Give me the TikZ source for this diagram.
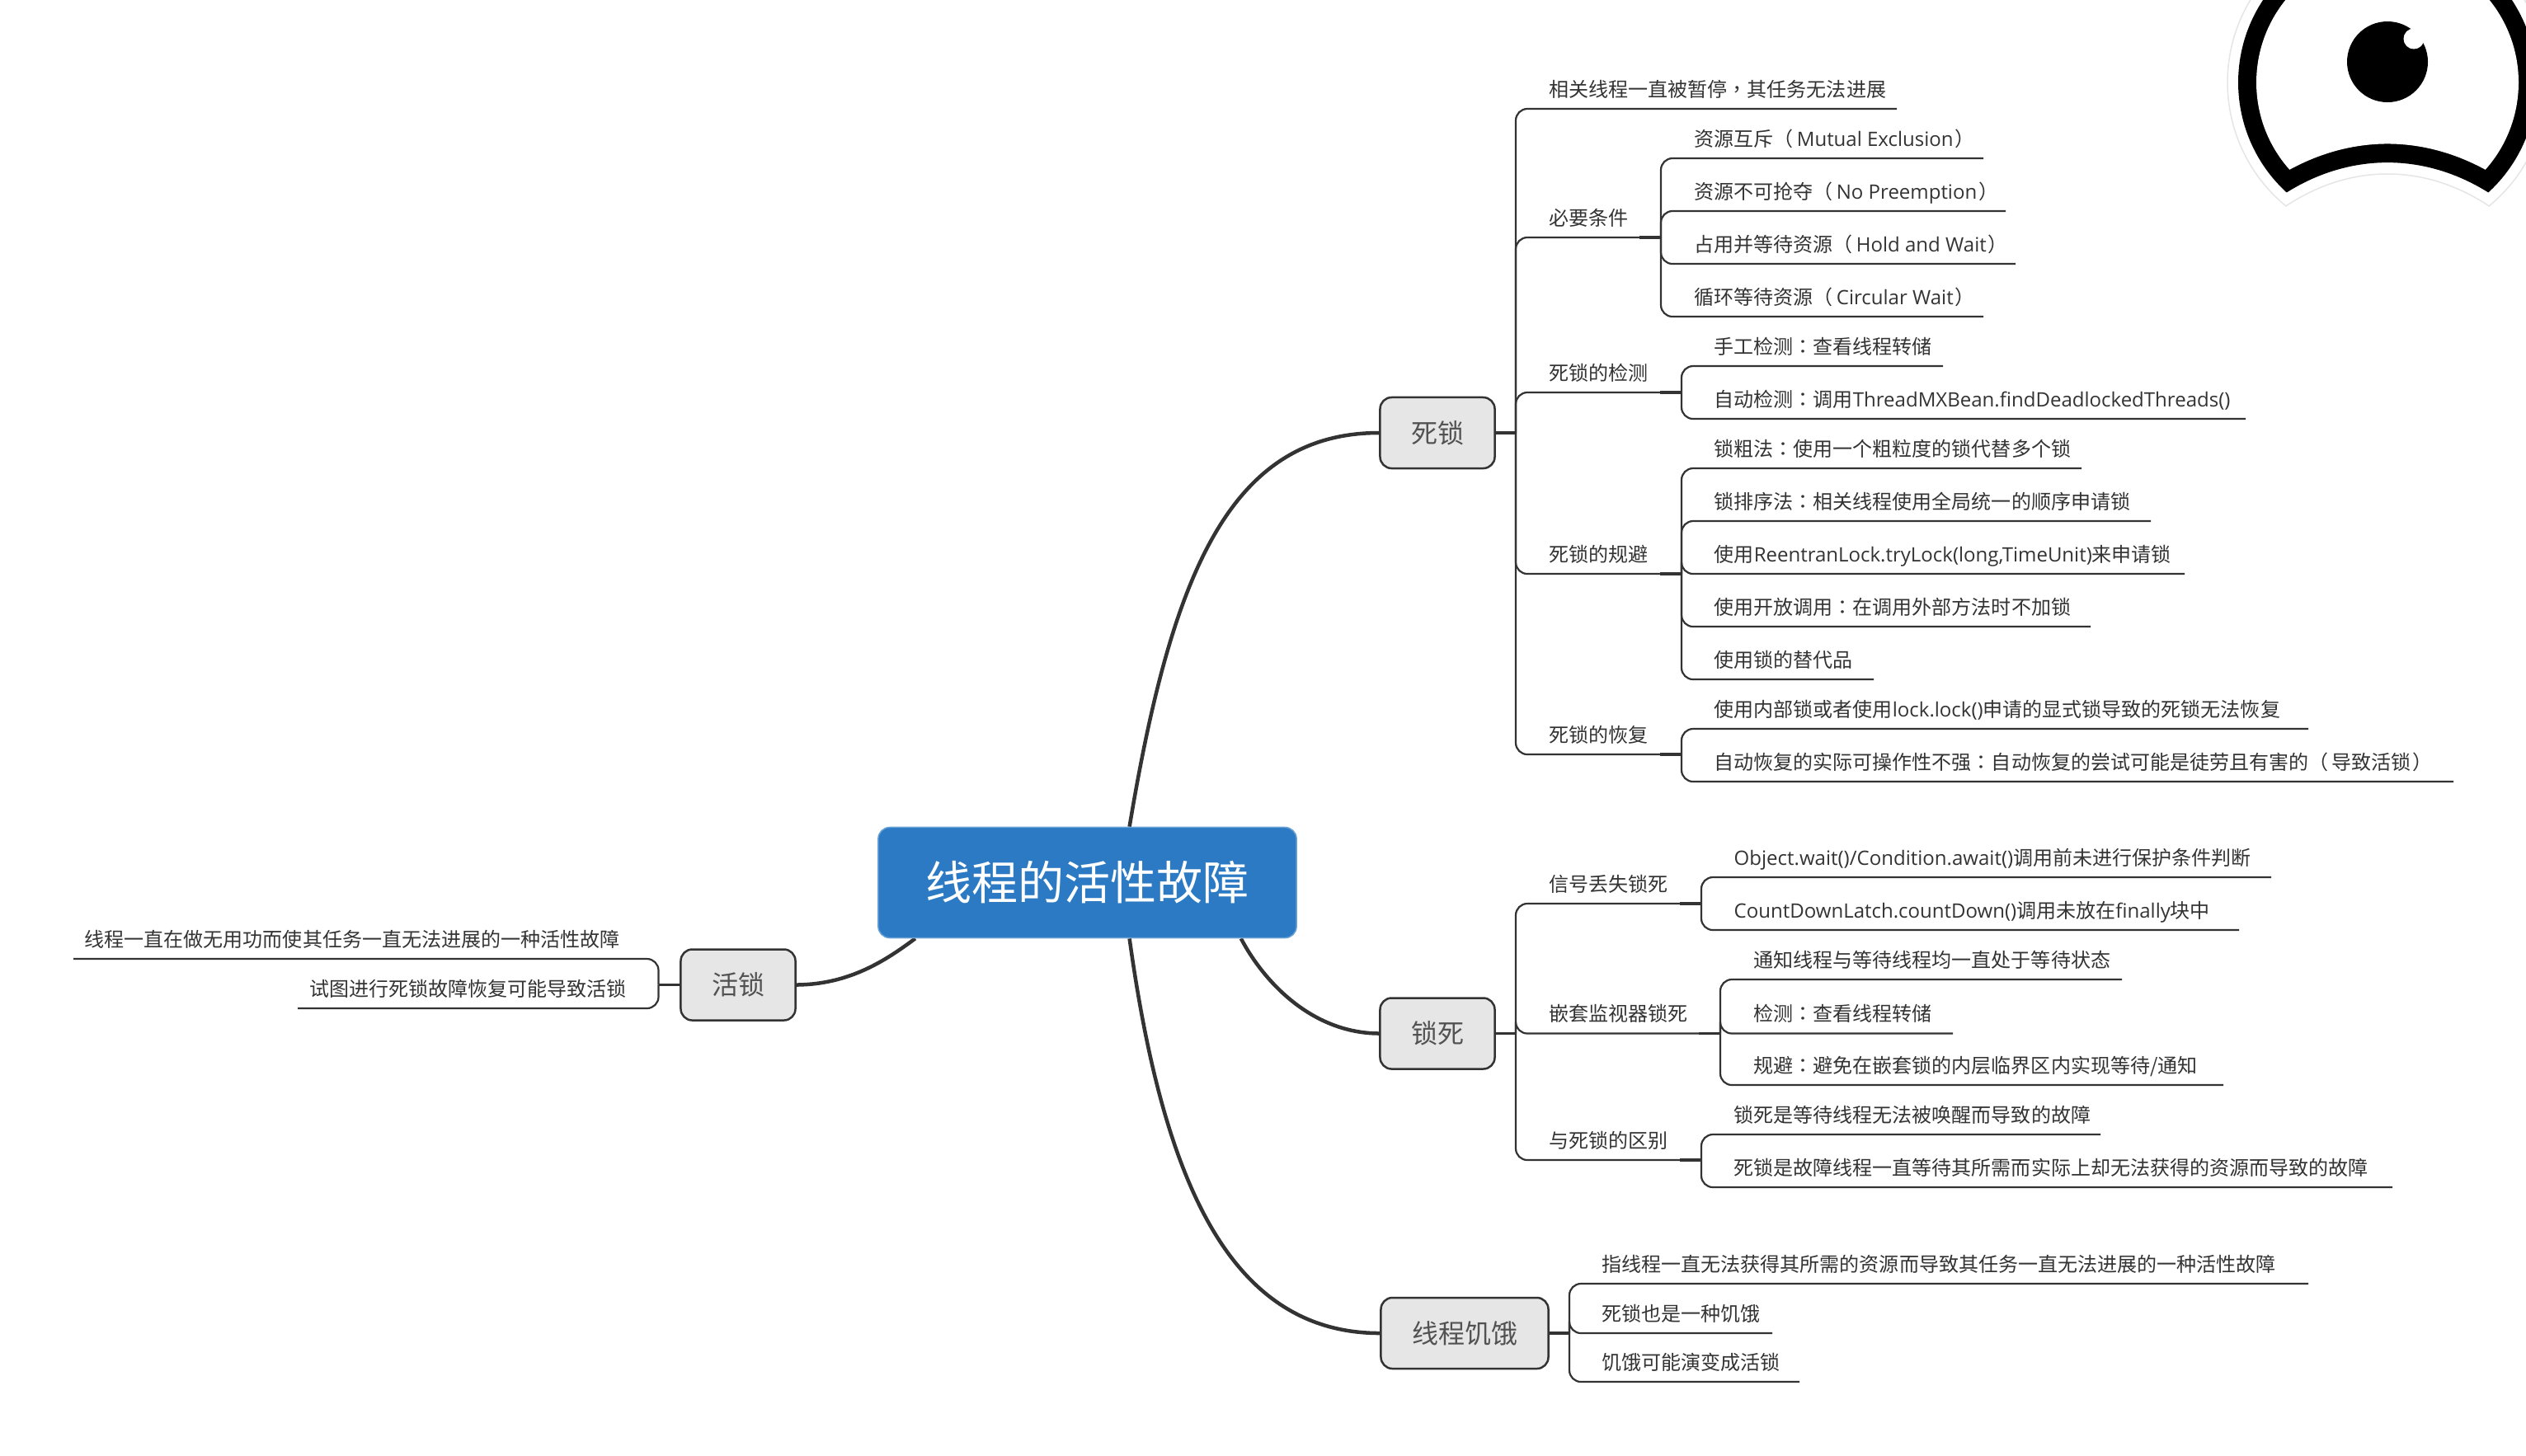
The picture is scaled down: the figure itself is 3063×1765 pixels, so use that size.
\documentclass[tikz,border=0pt]{standalone}
\usepackage{fontspec}
\setmainfont{Noto Sans CJK SC}
\newfontfamily\enfont{Open Sans}
\newfontfamily\markfont{Noto Sans CJK TC}
\newcommand{\en}[1]{{\enfont #1}}
\newcommand{\mk}[1]{{\markfont #1}}
\newcommand{\lp}{（\kern0.04cm}
\newcommand{\rp}{\kern0.02cm）}
\usetikzlibrary{backgrounds}

\definecolor{inkdark}{HTML}{333333}
\definecolor{rootblue}{HTML}{2C7AC3}
\definecolor{topicgray}{HTML}{E6E6E6}

\tikzset{
    root/.style={draw=rootblue!70!white, fill=rootblue, line width=0.015cm, rounded corners=1.4mm, minimum width=5.07cm, minimum height=1.34cm, inner sep=0pt, text=white, font=\fontsize{15.93}{18}\selectfont},
    topic/.style={draw=inkdark, fill=topicgray, line width=0.025cm, rounded corners=1.4mm, minimum height=0.86cm, inner xsep=0.375cm, inner ysep=0pt, text=inkdark!85!white, font=\fontsize{9.1}{11}\selectfont},
    leaf/.style={inner sep=0pt, anchor=base west, text=inkdark, font=\fontsize{6.83}{8}\selectfont},
    leafleft/.style={leaf, anchor=base east},
    curve/.style={draw=inkdark, line width=0.045cm},
    stem/.style={draw=inkdark, line width=0.035cm},
    branch/.style={draw=inkdark, line width=0.022cm, rounded corners=1.4mm}
}

\begin{document}
\begin{tikzpicture}[x=0.01cm, y=-0.01cm]
    \useasboundingbox (0,0) rectangle (3063,1765);

    % Main topics
    \node[root] (rootnode) at (1318.5,1070.5) {线程的活性故障};
    \node[topic] (dead) at (1743,525) {死锁};
    \node[topic] (lockup) at (1743,1253.5) {锁死};
    \node[topic] (starve) at (1776,1617) {线程饥饿};
    \node[topic] (live) at (895,1194.5) {活锁};

    % Curves behind the main topic
    \begin{scope}[on background layer]
        \draw[curve] (rootnode.53) .. controls (1420,700) and (1490,525) .. (dead.west);
        \draw[curve] (rootnode.-20.3) .. controls (1532,1190) and (1590,1253) .. (lockup.west);
        \draw[curve] (rootnode.-53) .. controls (1410,1430) and (1490,1617) .. (starve.west);
        \draw[curve] (rootnode.198.5) .. controls (1074,1165) and (1030,1194) .. (live.east);
    \end{scope}

    % Hubs of the main topics
    \foreach \hub/\topic/\hx/\hy in {deadhub/dead/1838/525, lockuphub/lockup/1838/1253.5, starvehub/starve/1903/1617, livehub/live/798.5/1194.5} {
        \coordinate (\hub) at (\hx,\hy);
        \draw[stem] (\topic) -- (\hub);
    }

    % Second level, with a hub of their own
    \foreach \hub/\parent/\hx/\uy/\label in {
        needhub/deadhub/2014/288/必要条件,
        detecthub/deadhub/2039/476/死锁的检测,
        avoidhub/deadhub/2039/696/死锁的规避,
        recoverhub/deadhub/2039/915/死锁的恢复,
        signalhub/lockuphub/2063/1096/信号丢失锁死,
        nesthub/lockuphub/2086/1253.5/嵌套监视器锁死,
        diffhub/lockuphub/2063/1407/与死锁的区别} {
        \coordinate (\hub) at (\hx,\uy);
        \node[leaf] (\hub text) at (1878,\uy-15) {\label};
        \draw[branch] (\parent) |- (\hub);
        \draw[stem] (\hub) -- ++(-26,0);
    }

    % Leaves
    \foreach \leafname/\hub/\lx/\uy/\ex/\label in {
        first/deadhub/1878/132/2300/{相关线程一直被暂停\mk{，}其任务无法进展},
        needa/needhub/2054/192/2405/{资源互斥\lp\en{Mutual Exclusion}\rp},
        needb/needhub/2054/256/2432/{资源不可抢夺\lp\en{No Preemption}\rp},
        needc/needhub/2054/320/2444/{占用并等待资源\lp\en{Hold and Wait}\rp},
        needd/needhub/2054/384/2405/{循环等待资源\lp\en{Circular Wait}\rp},
        detecta/detecthub/2078/444/2356/{手工检测\mk{：}查看线程转储},
        detectb/detecthub/2078/508/2723/{自动检测\mk{：}调用\en{ThreadMXBean.findDeadlockedThreads()}},
        avoida/avoidhub/2078/568/2524/{锁粗法\mk{：}使用一个粗粒度的锁代替多个锁},
        avoidb/avoidhub/2078/632/2608/{锁排序法\mk{：}相关线程使用全局统一的顺序申请锁},
        avoidc/avoidhub/2078/696/2649/{使用\en{ReentranLock.tryLock(long,TimeUnit)}来申请锁},
        avoidd/avoidhub/2078/760/2535/{使用开放调用\mk{：}在调用外部方法时不加锁},
        avoide/avoidhub/2078/824/2272/{使用锁的替代品},
        recovera/recoverhub/2078/884/2799/{使用内部锁或者使用\en{lock.lock()}申请的显式锁导致的死锁无法恢复},
        recoverb/recoverhub/2078/948/2975/{自动恢复的实际可操作性不强\mk{：}自动恢复的尝试可能是徒劳且有害的\lp 导致活锁\rp},
        signala/signalhub/2102/1064/2754/{\en{Object.wait()/Condition.await()}调用前未进行保护条件判断},
        signalb/signalhub/2102/1128/2715/{\en{CountDownLatch.countDown()}调用未放在\en{finally}块中},
        nesta/nesthub/2126/1188/2573/{通知线程与等待线程均一直处于等待状态},
        nestb/nesthub/2126/1253.5/2368/{检测\mk{：}查看线程转储},
        nestc/nesthub/2126/1316/2696/{规避\mk{：}避免在嵌套锁的内层临界区内实现等待/通知},
        diffa/diffhub/2102/1376/2547/{锁死是等待线程无法被唤醒而导致的故障},
        diffb/diffhub/2102/1440/2901/{死锁是故障线程一直等待其所需而实际上却无法获得的资源而导致的故障},
        starvea/starvehub/1942/1557/2799/{指线程一直无法获得其所需的资源而导致其任务一直无法进展的一种活性故障},
        starveb/starvehub/1942/1617/2149/{死锁也是一种饥饿},
        starvec/starvehub/1942/1676/2182/{饥饿可能演变成活锁}} {
        \node[leaf] (\leafname) at (\lx,\uy-15) {\label};
        \coordinate (\leafname end) at (\ex,\uy);
        \draw[branch] (\hub) |- (\leafname end);
    }

    % Leaves on the left side
    \foreach \leafname/\lx/\uy/\ex/\label in {
        livea/752/1163/89/{线程一直在做无用功而使其任务一直无法进展的一种活性故障},
        liveb/760/1223/361/{试图进行死锁故障恢复可能导致活锁}} {
        \node[leafleft] (\leafname) at (\lx,\uy-15) {\label};
        \coordinate (\leafname end) at (\ex,\uy);
        \draw[branch] (livehub) |- (\leafname end);
    }

    % Eye in the corner
    \begin{scope}
        \clip (0,0) rectangle (3063,1765);
        \begin{scope}[shift={(2895,100)}, y=0.01cm]
            \fill[white, draw=black!10, line width=0.015cm] (230.6:194) arc[start angle=230.6, end angle=-50.6, radius=194] .. controls (45,-98) and (-45,-98) .. cycle;
            \fill[black] (227.5:181) arc[start angle=227.5, end angle=-47.5, radius=181] .. controls (45,-85) and (-45,-85) .. cycle;
            \fill[white] (221.7:159) arc[start angle=221.7, end angle=-41.7, radius=159] .. controls (42,-64) and (-42,-64) .. cycle;
            \fill[black] (0,25) circle (49);
            \fill[white] (32,53) circle (12.5);
        \end{scope}
    \end{scope}
\end{tikzpicture}
\end{document}
